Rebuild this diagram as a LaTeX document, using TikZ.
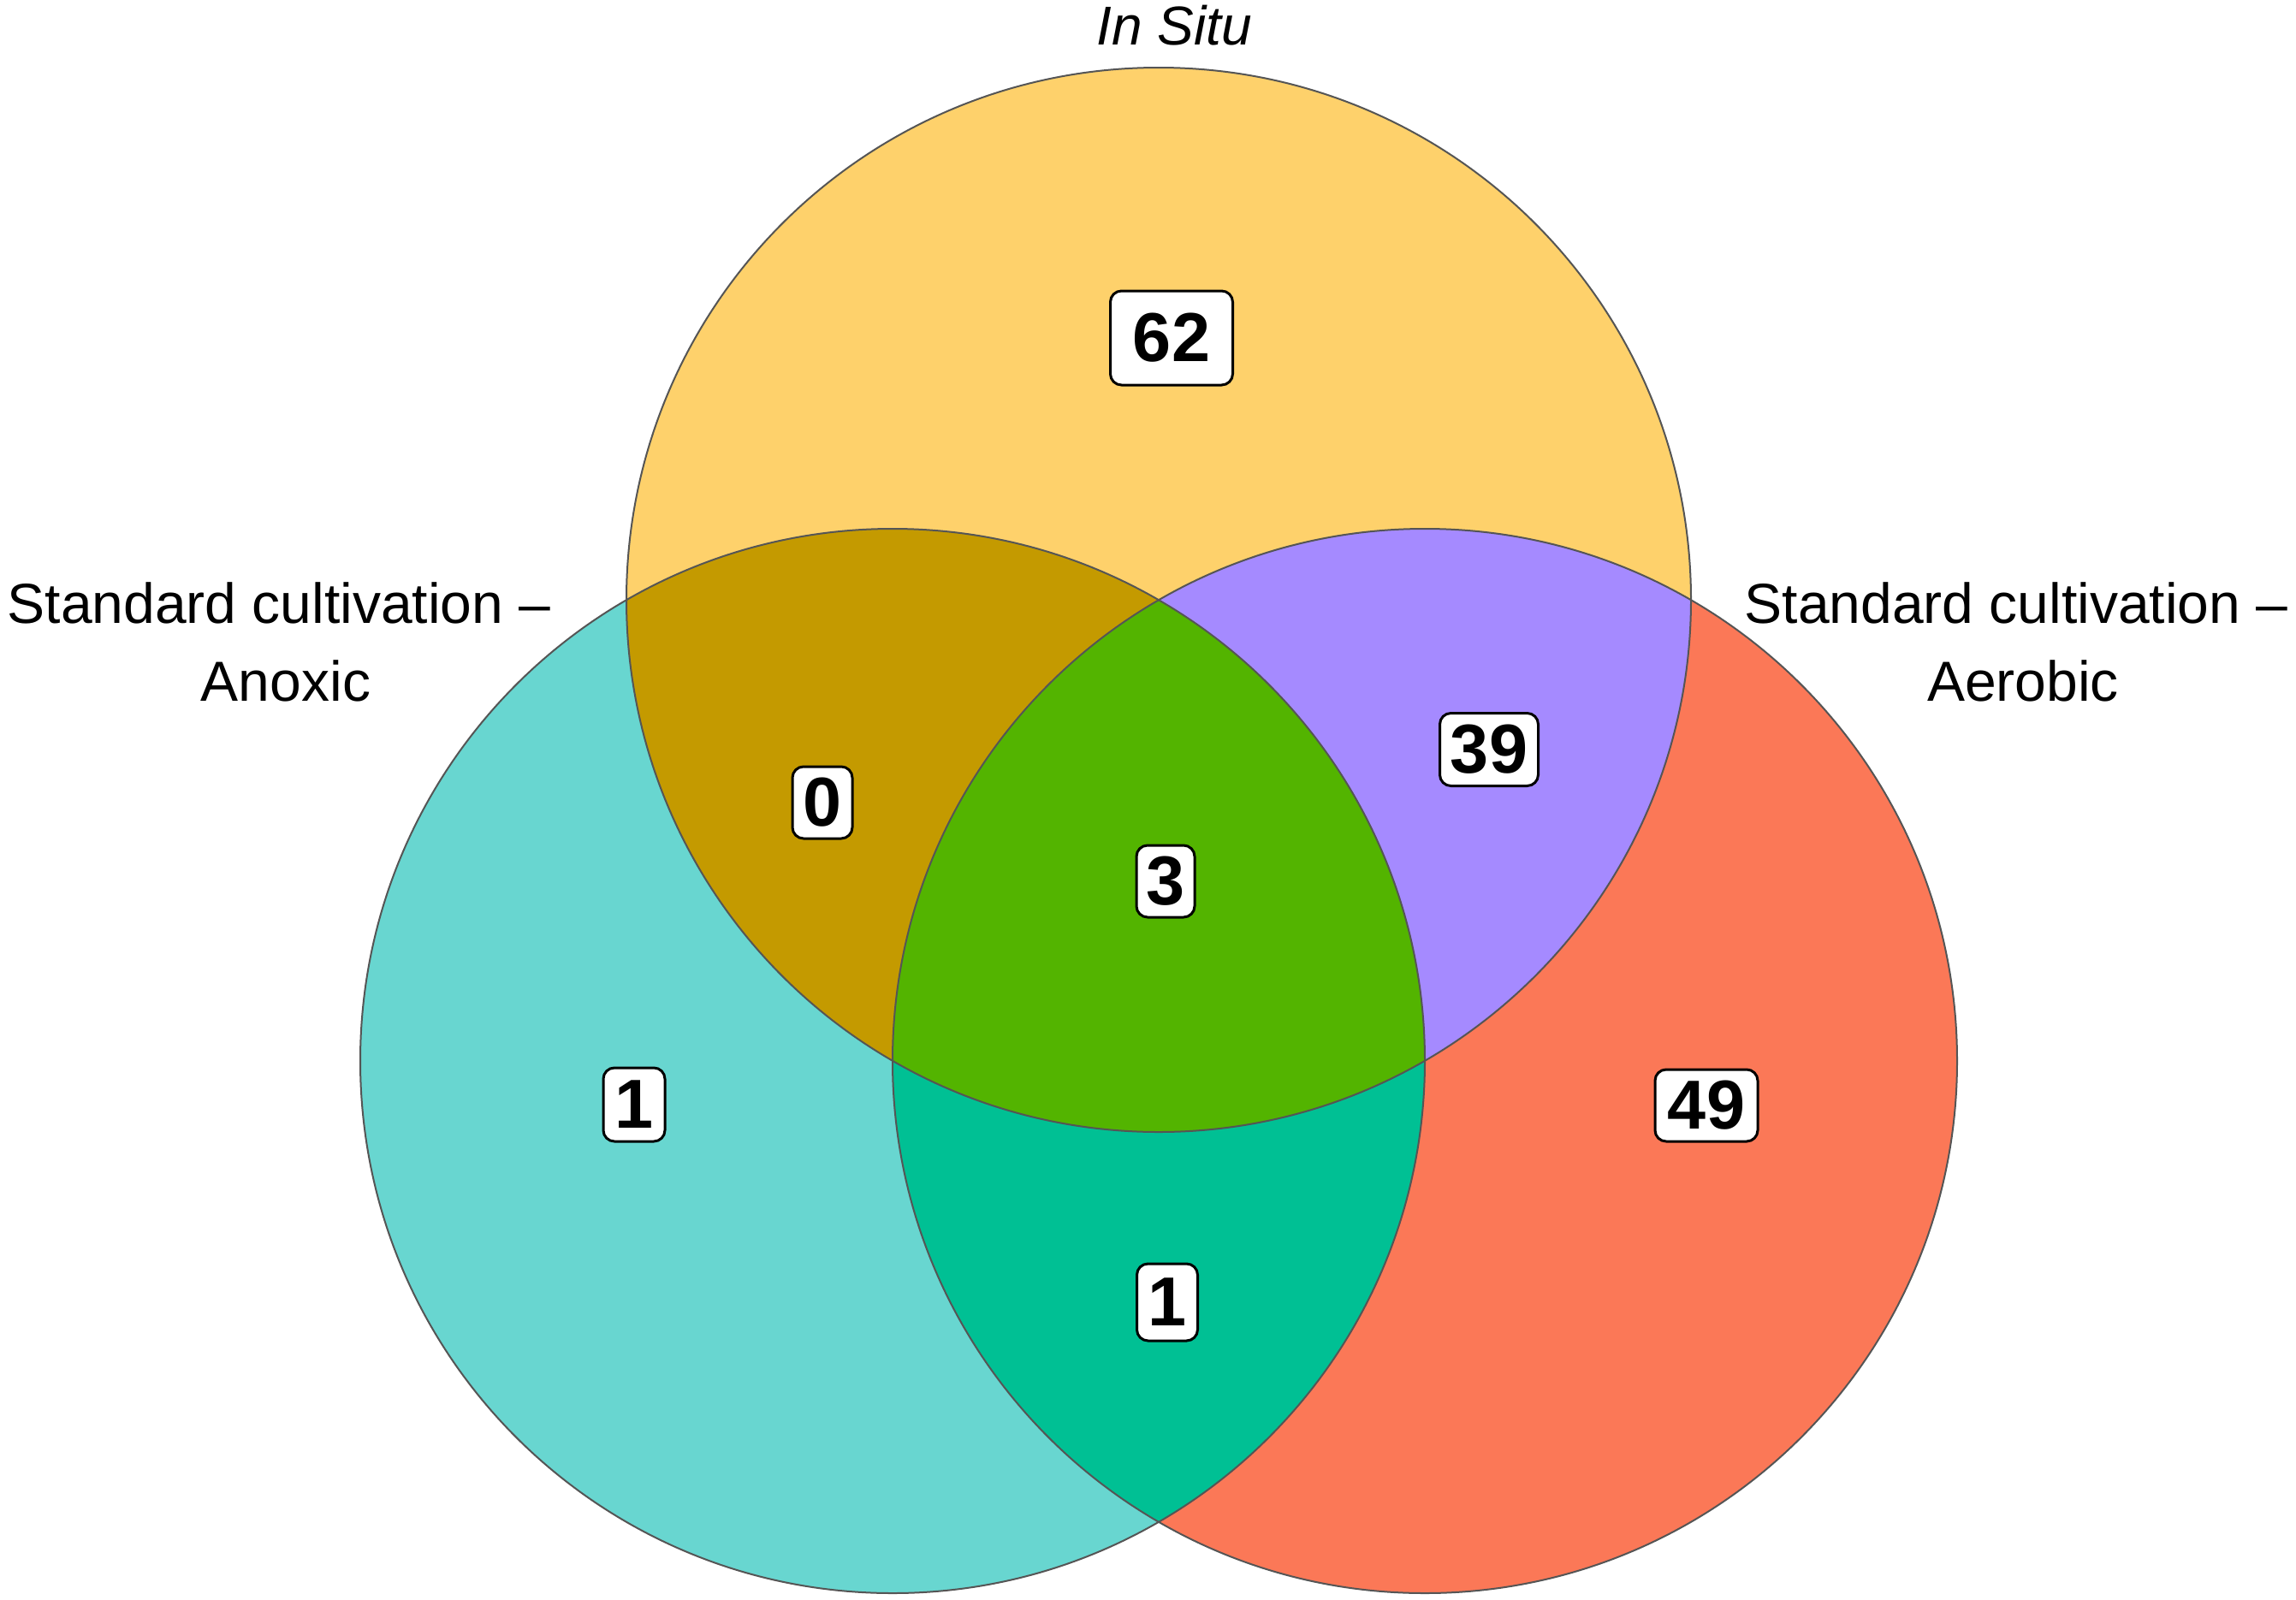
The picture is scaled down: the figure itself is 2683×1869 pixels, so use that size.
\documentclass[tikz,border=0pt]{standalone}
\usepackage{fontspec}
\setmainfont{Liberation Sans}
\definecolor{cTop}{HTML}{FED16B}
\definecolor{cLeft}{HTML}{68D6D0}
\definecolor{cRight}{HTML}{FB7857}
\definecolor{cTL}{HTML}{C49A00}
\definecolor{cTR}{HTML}{A58AFF}
\definecolor{cLR}{HTML}{00C094}
\definecolor{cAll}{HTML}{53B400}
\definecolor{cEdge}{HTML}{555555}
\tikzset{
  setlabel/.style={inner sep=0pt, font=\fontsize{66}{80}\selectfont, anchor=base},
  countbox/.style={draw=black, line width=3pt, fill=white, rounded corners=13pt,
    inner sep=0pt, font=\fontsize{81}{90}\selectfont\bfseries, text=black},
  rim/.style={draw=cEdge, line width=2pt}
}
\begin{document}
\begin{tikzpicture}[x=1pt,y=-1pt]
\useasboundingbox (0,0) rectangle (2683,1869);
\coordinate (T) at (1354,701);
\coordinate (L) at (1043,1240);
\coordinate (R) at (1665,1240);
\def\rr{622pt}
% single sets
\fill[cTop] (T) circle[radius=\rr];
\fill[cLeft] (L) circle[radius=\rr];
\fill[cRight] (R) circle[radius=\rr];
% pairwise
\begin{scope}
  \clip (T) circle[radius=\rr];
  \fill[cTL] (L) circle[radius=\rr];
  \fill[cTR] (R) circle[radius=\rr];
\end{scope}
\begin{scope}
  \clip (L) circle[radius=\rr];
  \fill[cLR] (R) circle[radius=\rr];
\end{scope}
\begin{scope}
  \clip (T) circle[radius=\rr];
  \clip (L) circle[radius=\rr];
  \fill[cAll] (R) circle[radius=\rr];
\end{scope}
% outlines
\draw[rim] (T) circle[radius=\rr];
\draw[rim] (L) circle[radius=\rr];
\draw[rim] (R) circle[radius=\rr];
% set labels
\node[setlabel, font=\fontsize{64}{76}\selectfont\itshape] (labT) at (1372,52) {In Situ};
\node[setlabel] (labL1) at (326,728) {Standard cultivation –};
\node[setlabel] (labL2) at (334,819) {Anoxic};
\node[setlabel] (labR1) at (2356,728) {Standard cultivation –};
\node[setlabel] (labR2) at (2364,819) {Aerobic};
% counts
\node[countbox, minimum width=143pt, minimum height=110pt] (n62) at (1369,395) {62};
\node[countbox, minimum width=70pt, minimum height=84pt] (n0) at (961,938) {0};
\node[countbox, minimum width=115pt, minimum height=85pt] (n39) at (1740,876) {39};
\node[countbox, minimum width=68pt, minimum height=84pt] (n3) at (1362,1030) {3};
\node[countbox, minimum width=72pt, minimum height=86pt] (n1L) at (741,1291) {1};
\node[countbox, minimum width=120pt, minimum height=84pt] (n49) at (1994,1292) {49};
\node[countbox, minimum width=71pt, minimum height=90pt] (n1B) at (1364,1522) {1};
\end{tikzpicture}
\end{document}
